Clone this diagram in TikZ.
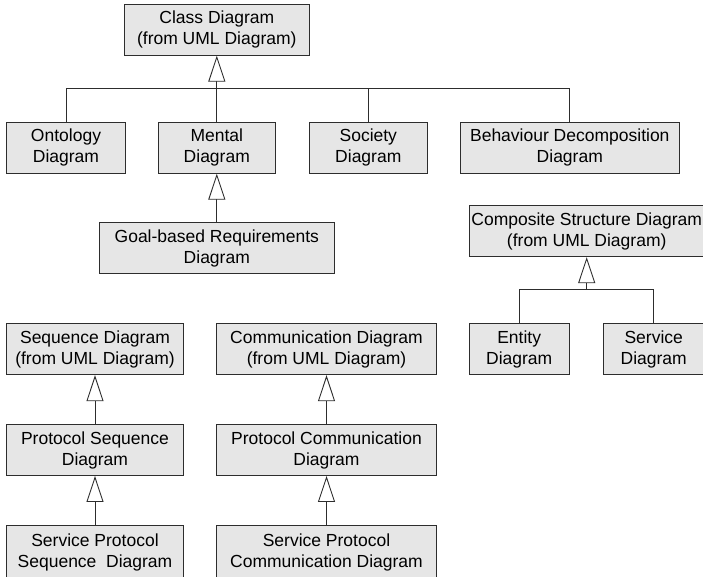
\documentclass[tikz,border=0pt]{standalone}
\usepackage{fontspec}
\setmainfont{Liberation Sans}
\usetikzlibrary{arrows.meta}
\definecolor{boxgray}{RGB}{230,230,230}
\definecolor{edgegray}{RGB}{45,45,45}

\begin{document}
\begin{tikzpicture}[x=1pt, y=-1pt,
  diag/.style={draw=edgegray, fill=boxgray, line width=0.9pt, inner sep=0pt,
    align=center, font=\fontsize{17.5}{21}\selectfont, minimum height=51pt},
  gen/.style={draw=edgegray, line width=0.9pt,
    -{Triangle[fill=white, length=26pt, width=17pt]}},
  link/.style={draw=edgegray, line width=0.9pt}]
  \useasboundingbox (0,0) rectangle (703,576);

  % Class diagram family
  \node[diag, minimum width=185pt] (class) at (216.8,29.7) {Class Diagram\\(from UML Diagram)};
  \node[diag, minimum width=118.6pt] (ontology) at (66,147.7) {Ontology\\Diagram};
  \node[diag, minimum width=117.7pt] (mental) at (216.8,147.7) {Mental\\Diagram};
  \node[diag, minimum width=118pt] (society) at (368.3,147.7) {Society\\Diagram};
  \node[diag, minimum width=219pt] (behaviour) at (569.8,147.7) {Behaviour Decomposition\\Diagram};
  \node[diag, minimum width=235.7pt] (goal) at (216.8,248) {Goal-based Requirements\\Diagram};

  \coordinate (bus) at (216.8,88.7);
  \draw[gen] (bus) -- (class.south);
  \draw[link] (ontology.north) |- (bus);
  \draw[link] (mental.north) -- (bus);
  \draw[link] (society.north) |- (bus);
  \draw[link] (behaviour.north) |- (bus);
  \draw[gen] (goal.north) -- (mental.south);

  % Composite structure family
  \node[diag, minimum width=234.7pt] (composite) at (586.7,231.2) {Composite Structure Diagram\\(from UML Diagram)};
  \node[diag, minimum width=99.7pt] (entity) at (519.2,349.2) {Entity\\Diagram};
  \node[diag, minimum width=100.7pt] (service) at (653.7,349.2) {Service\\Diagram};

  \coordinate (cbus) at (586.7,289.3);
  \draw[gen] (cbus) -- (composite.south);
  \draw[link] (entity.north) |- (cbus);
  \draw[link] (service.north) |- (cbus);

  % Sequence diagrams
  \node[diag, minimum width=176.6pt] (sequence) at (95,349.2) {Sequence Diagram\\(from UML Diagram)};
  \node[diag, minimum width=176.6pt] (protseq) at (95,450) {Protocol Sequence\\Diagram};
  \node[diag, minimum width=176.6pt, minimum height=54pt] (servseq) at (95,552.7) {Service Protocol\\Sequence~ Diagram};
  \draw[gen] (protseq.north) -- (sequence.south);
  \draw[gen] (servseq.north) -- (protseq.south);

  % Communication diagrams
  \node[diag, minimum width=219.6pt] (comm) at (326.5,349.2) {Communication Diagram\\(from UML Diagram)};
  \node[diag, minimum width=219.6pt] (protcomm) at (326.5,450) {Protocol Communication\\Diagram};
  \node[diag, minimum width=219.6pt, minimum height=54pt] (servcomm) at (326.5,552.7) {Service Protocol\\Communication Diagram};
  \draw[gen] (protcomm.north) -- (comm.south);
  \draw[gen] (servcomm.north) -- (protcomm.south);
\end{tikzpicture}
\end{document}
